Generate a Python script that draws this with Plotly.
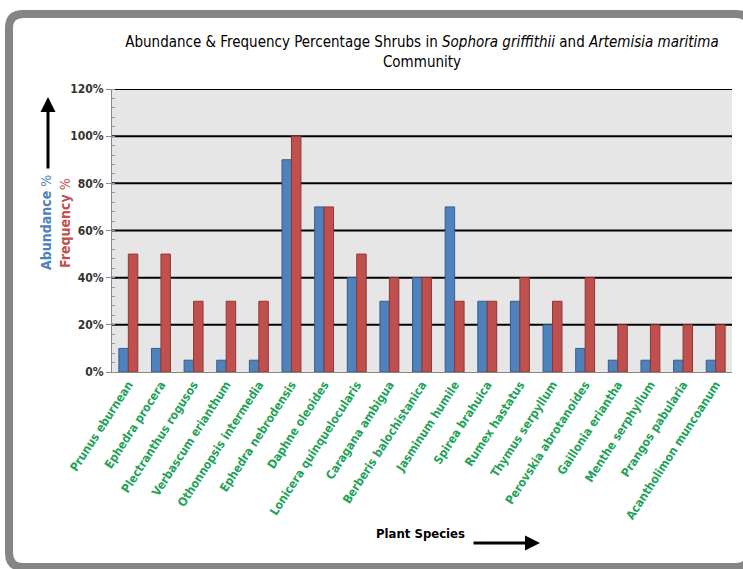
import plotly.graph_objects as go

# Species (x categories) and the two measured percentages
species = [
    "Prunus eburnean", "Ephedra procera", "Plectranthus rogusos",
    "Verbascum erianthum", "Othonnopsis intermedia", "Ephedra nebrodensis",
    "Daphne oleoides", "Lonicera quinquelocularis", "Caragana ambigua",
    "Berberis balochistanica", "Jasminum humile", "Spirea brahuica",
    "Rumex hastatus", "Thymus serpyllum", "Perovskia abrotanoides",
    "Gaillonia eriantha", "Menthe serphyllum", "Prangos pabularia",
    "Acantholimon muncoanum",
]
abundance = [10, 10, 5, 5, 5, 90, 70, 40, 30, 40, 70, 30, 30, 20, 10, 5, 5, 5, 5]
frequency = [50, 50, 30, 30, 30, 100, 70, 50, 40, 40, 30, 30, 40, 30, 40, 20, 20, 20, 20]
y_ticks = [0, 20, 40, 60, 80, 100, 120]
y_tick_labels = ["0%", "20%", "40%", "60%", "80%", "100%", "120%"]

W, H = 743, 569
ML, MR, MT, MB = 112, 11, 89, 197
PW, PH = W - ML - MR, H - MT - MB


def px(x):
    return (x - ML) / PW


def py(y):
    return (H - MB - y) / PH


FONT = "Liberation Sans Narrow, Arial Narrow, DejaVu Sans Condensed, sans-serif"
BLUE, RED = "#4f81bd", "#c0504d"

fig = go.Figure()
fig.add_trace(go.Bar(
    x=species, y=abundance, name="Abundance %",
    marker=dict(color=BLUE, line=dict(color="#385d8a", width=1)),
))
fig.add_trace(go.Bar(
    x=species, y=frequency, name="Frequency %",
    marker=dict(color=RED, line=dict(color="#8c3836", width=1)),
))

shapes = []
# black horizontal gridlines (every major tick except the baseline)
for v in y_ticks[1:]:
    shapes.append(dict(type="line", xref="paper", yref="y", x0=0, x1=1, y0=v, y1=v,
                       line=dict(color="black", width=2), layer="below"))

# rounded grey frame around the whole chart
l, t, r, b, rad = 9, 14, 750, 567, 14
rx, ry = rad / PW, rad / PH
X0, X1, Y0, Y1 = px(l), px(r), py(b), py(t)
path = (f"M {X0 + rx} {Y1} L {X1 - rx} {Y1} Q {X1} {Y1} {X1} {Y1 - ry} "
        f"L {X1} {Y0 + ry} Q {X1} {Y0} {X1 - rx} {Y0} "
        f"L {X0 + rx} {Y0} Q {X0} {Y0} {X0} {Y0 + ry} "
        f"L {X0} {Y1 - ry} Q {X0} {Y1} {X0 + rx} {Y1} Z")
shapes.append(dict(type="path", xref="paper", yref="paper", path=path,
                   line=dict(color="#858585", width=8), layer="below"))

annotations = [
    # y axis titles
    dict(x=px(36), y=py(223), xref="paper", yref="paper", textangle=-90,
         text="<b>Abundance</b> %", showarrow=False,
         font=dict(family=FONT, size=14, color=BLUE)),
    dict(x=px(55), y=py(223), xref="paper", yref="paper", textangle=-90,
         text="<b>Frequency</b> %", showarrow=False,
         font=dict(family=FONT, size=14, color=RED)),
    # upward arrow
    dict(x=px(48), y=py(97), xref="paper", yref="paper", ax=0, ay=73,
         showarrow=True, arrowhead=2, arrowsize=1, arrowwidth=3, arrowcolor="black", text=""),
    # x axis title with arrow
    dict(x=px(420), y=py(543), xref="paper", yref="paper", text="<b>Plant Species</b>",
         showarrow=False, font=dict(family=FONT, size=13, color="black")),
    dict(x=px(540), y=py(543), xref="paper", yref="paper", ax=-68, ay=0,
         showarrow=True, arrowhead=2, arrowsize=1, arrowwidth=3, arrowcolor="black", text=""),
]

fig.update_layout(
    width=W, height=H,
    margin=dict(l=ML, r=MR, t=MT, b=MB),
    paper_bgcolor="white", plot_bgcolor="#e6e6e6",
    barmode="group", bargap=0.42, bargroupgap=0,
    showlegend=False,
    title=dict(
        text="Abundance & Frequency Percentage Shrubs in <i>Sophora griffithii</i> and "
             "<i>Artemisia maritima</i><br>Community",
        x=0.5, xref="paper", y=1 - 47 / H, yref="container", xanchor="center", yanchor="middle",
        font=dict(family=FONT, size=15, color="black"),
    ),
    shapes=shapes,
    annotations=annotations,
)
fig.update_yaxes(
    range=[0, 120], tickvals=y_ticks, ticktext=["<b>" + s + "</b>" for s in y_tick_labels],
    showgrid=False, zeroline=False,
    showline=True, linecolor="#888888", linewidth=1,
    ticks="outside", ticklen=5, tickcolor="#888888",
    minor=dict(dtick=4, ticks="inside", ticklen=3, tickcolor="#999999", showgrid=False),
    tickfont=dict(family=FONT, size=12, color="#333333"),
)
fig.update_xaxes(
    tickangle=-57, showgrid=False, showline=True, linecolor="#888888", linewidth=1,
    tickfont=dict(family=FONT, size=12, color="#1fa35a"),
    tickprefix="<b>", ticksuffix="</b>",
)

fig.write_html("out.html")
